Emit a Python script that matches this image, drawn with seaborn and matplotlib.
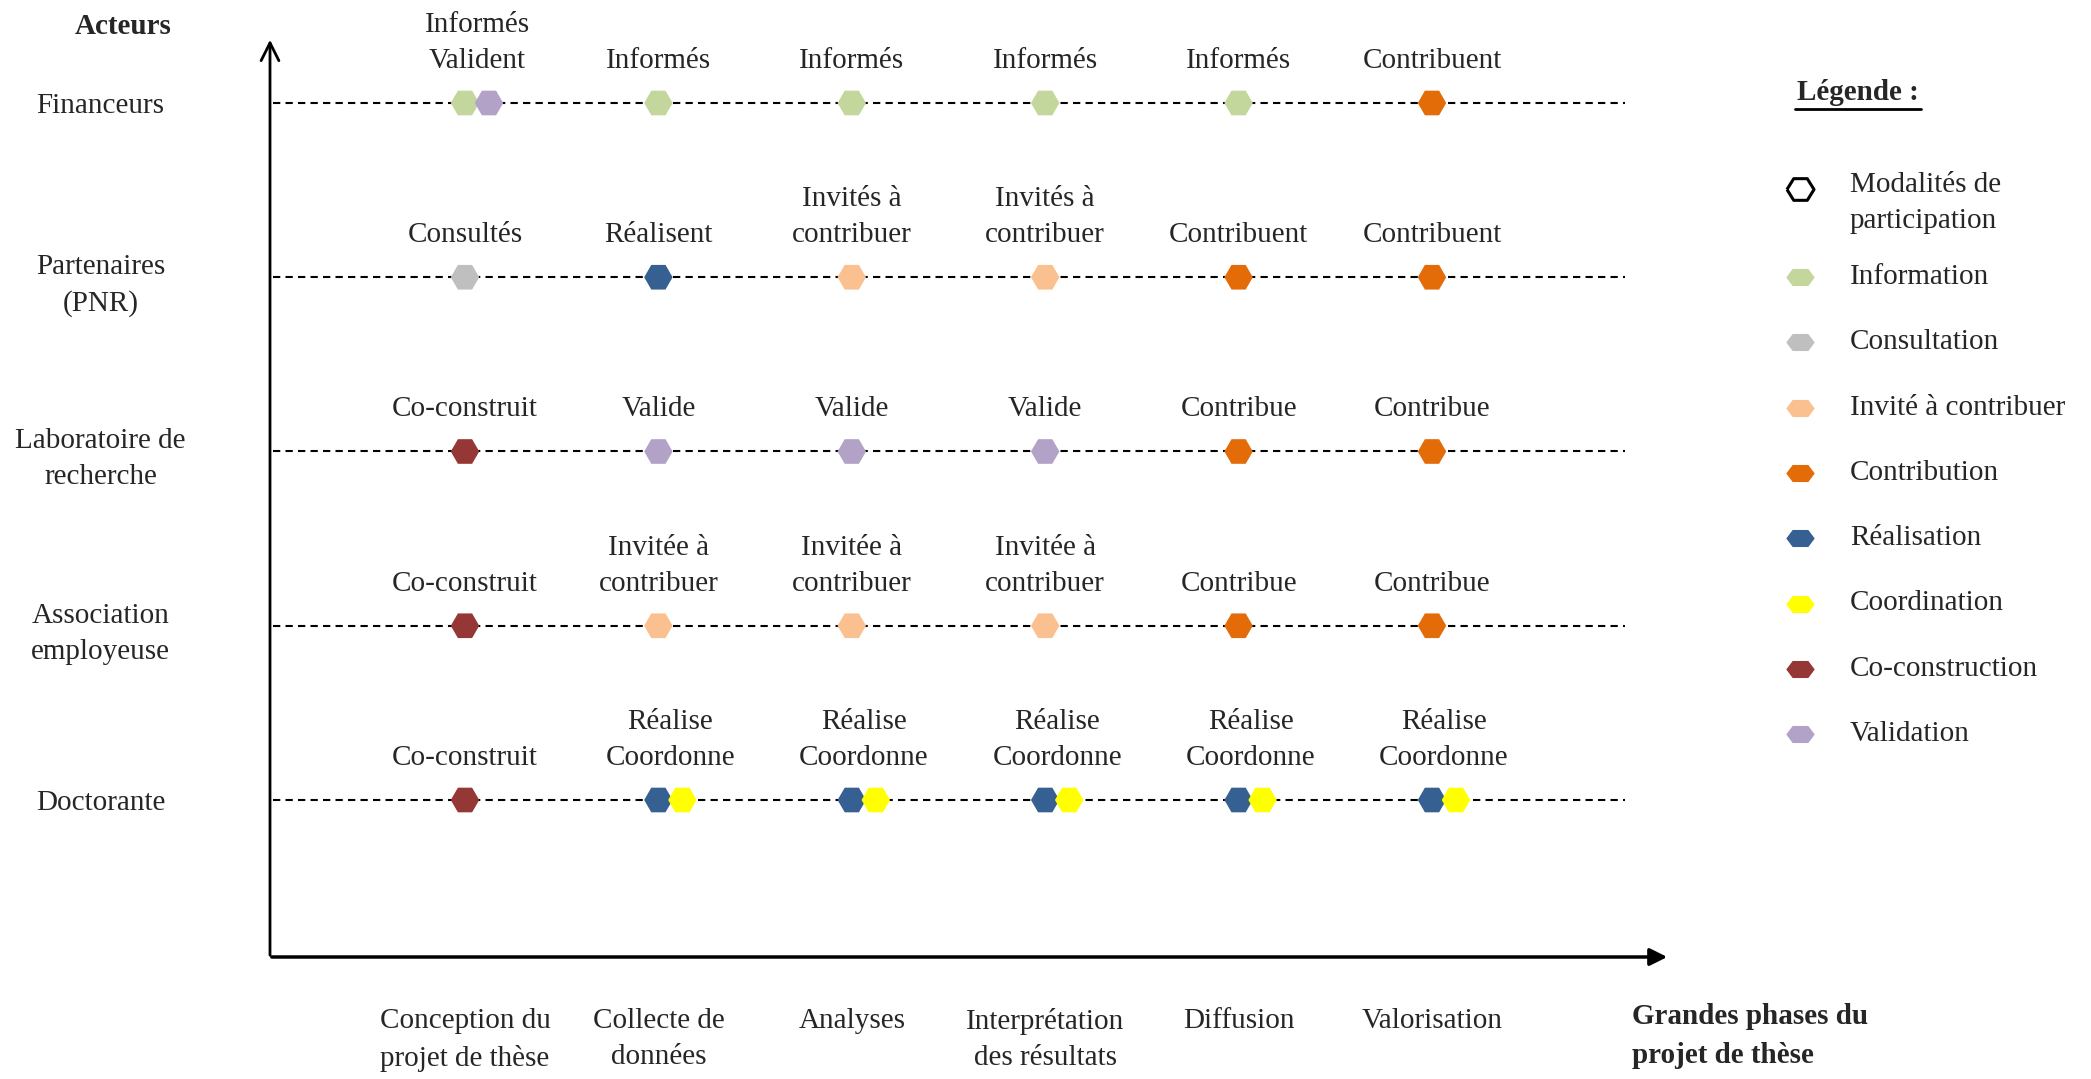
import pandas as pd
import matplotlib.pyplot as plt
import seaborn as sns

sns.set_theme(style="white")
plt.rcParams["font.family"] = ["Liberation Serif", "DejaVu Serif"]
plt.rcParams["font.size"] = 21


# ---------------------------------------------------------
# Data
# ---------------------------------------------------------
actors = ["Financeurs", "Partenaires\n(PNR)", "Laboratoire de\nrecherche",
          "Association\nemployeuse", "Doctorante"]
phases = ["Conception du\nprojet de thèse", "Collecte de\ndonnées", "Analyses",
          "Interprétation\ndes résultats", "Diffusion", "Valorisation"]

modalities = ["Information", "Consultation", "Invité à contribuer", "Contribution",
              "Réalisation", "Coordination", "Co-construction", "Validation"]
modality_colors = ["#C3D69B", "#BFBFBF", "#FAC090", "#E36C09",
                   "#366092", "#FFFF00", "#953735", "#B3A2C7"]

# modalities used by each actor, phase by phase
financeurs_modes = [["Information", "Validation"], ["Information"], ["Information"],
                    ["Information"], ["Information"], ["Contribution"]]
partenaires_modes = [["Consultation"], ["Réalisation"], ["Invité à contribuer"],
                     ["Invité à contribuer"], ["Contribution"], ["Contribution"]]
labo_modes = [["Co-construction"], ["Validation"], ["Validation"],
              ["Validation"], ["Contribution"], ["Contribution"]]
association_modes = [["Co-construction"], ["Invité à contribuer"], ["Invité à contribuer"],
                     ["Invité à contribuer"], ["Contribution"], ["Contribution"]]
doctorante_modes = [["Co-construction"], ["Réalisation", "Coordination"],
                    ["Réalisation", "Coordination"], ["Réalisation", "Coordination"],
                    ["Réalisation", "Coordination"], ["Réalisation", "Coordination"]]

# captions written above the markers
financeurs_labels = ["Informés\nValident", "Informés", "Informés", "Informés",
                     "Informés", "Contribuent"]
partenaires_labels = ["Consultés", "Réalisent", "Invités à\ncontribuer",
                      "Invités à\ncontribuer", "Contribuent", "Contribuent"]
labo_labels = ["Co-construit", "Valide", "Valide", "Valide", "Contribue", "Contribue"]
association_labels = ["Co-construit", "Invitée à\ncontribuer", "Invitée à\ncontribuer",
                      "Invitée à\ncontribuer", "Contribue", "Contribue"]
doctorante_labels = ["Co-construit", "Réalise\nCoordonne", "Réalise\nCoordonne",
                     "Réalise\nCoordonne", "Réalise\nCoordonne", "Réalise\nCoordonne"]

all_modes = [financeurs_modes, partenaires_modes, labo_modes,
             association_modes, doctorante_modes]
all_labels = [financeurs_labels, partenaires_labels, labo_labels,
              association_labels, doctorante_labels]

legend_labels = ["Modalités de\nparticipation"] + modalities


# ---------------------------------------------------------
# Layout (pixels of the 2091x1079 canvas)
# ---------------------------------------------------------
W, H = 2091, 1079
COL0, COL_STEP = 465, 193.4        # centre of first phase column, spacing
ROW0, ROW_STEP = 103, 174.25       # centre of first actor row, spacing
AX_LEFT, AX_RIGHT, AX_TOP, AX_BOTTOM = 270, 1670, 37, 957
PAIR_DX = 24 / COL_STEP            # second marker of a pair sits 24 px right
LS = 1.5                           # line spacing of two-line texts


def to_x(px):
    return (px - COL0) / COL_STEP


def to_y(py):
    return (py - ROW0) / ROW_STEP


records = []
for j, modes_row in enumerate(all_modes):
    for i, modes in enumerate(modes_row):
        for k, m in enumerate(modes):
            records.append({"actor": j, "phase": i, "slot": k, "modality": m})
df = pd.DataFrame(records)
df["x"] = df["phase"] + df["slot"] * PAIR_DX

fig = plt.figure(figsize=(W / 100, H / 100), dpi=100)
ax = fig.add_axes([AX_LEFT / W, 1 - AX_BOTTOM / H,
                   (AX_RIGHT - AX_LEFT) / W, (AX_BOTTOM - AX_TOP) / H])
ax.set_xlim(to_x(AX_LEFT), to_x(AX_RIGHT))
ax.set_ylim(to_y(AX_BOTTOM), to_y(AX_TOP))

# dashed guide line for every actor
ax.hlines(range(len(actors)), to_x(273), to_x(1625), colors="black",
          linestyles=(0, (3.5, 2.5)), linewidth=1.5, zorder=1)

sns.scatterplot(data=df, x="x", y="actor", hue="modality", hue_order=modalities,
                palette=modality_colors, marker="H", s=420, linewidth=0,
                legend=False, ax=ax, zorder=3)

# captions above the markers
for j, (modes_row, labels_row) in enumerate(zip(all_modes, all_labels)):
    for i, (modes, label) in enumerate(zip(modes_row, labels_row)):
        xc = i + (len(modes) - 1) * PAIR_DX / 2
        ax.annotate(label, (xc, j), xytext=(0, 21), textcoords="offset points",
                    ha="center", va="bottom", linespacing=LS)

ax.set_xticks(range(len(phases)))
ax.set_xticklabels(phases, linespacing=LS)
ax.set_yticks(range(len(actors)))
ax.set_yticklabels(actors, ha="center", linespacing=LS)
ax.tick_params(axis="x", length=0, pad=37, labelsize=21)
ax.tick_params(axis="y", length=0, pad=122, labelsize=21)
ax.set_xlabel("")
ax.set_ylabel("")
for s in ax.spines.values():
    s.set_visible(False)
ax.set_facecolor("none")

# ---------------------------------------------------------
# Overlay in pixel coordinates: arrows, titles, legend
# ---------------------------------------------------------
lax = fig.add_axes([0, 0, 1, 1], zorder=-1)
lax.set_xlim(0, W)
lax.set_ylim(H, 0)
lax.axis("off")

lax.annotate("", xy=(AX_LEFT, AX_TOP), xytext=(AX_LEFT, AX_BOTTOM + 1),
             arrowprops=dict(arrowstyle="->", lw=2, color="black", mutation_scale=32))
lax.annotate("", xy=(AX_RIGHT, AX_BOTTOM), xytext=(AX_LEFT - 1, AX_BOTTOM),
             arrowprops=dict(arrowstyle="-|>", lw=2.5, color="black", mutation_scale=26))

lax.text(123, 26, "Acteurs", fontweight="bold", ha="center", va="center")
lax.text(1632, 1003, "Grandes phases du\nprojet de thèse", fontweight="bold",
         ha="left", va="top", linespacing=1.55)

title = lax.text(1858, 93, "Légende :", fontweight="bold", ha="center", va="center")

flat_hex = [(-1, 0), (-0.55, 0.6), (0.55, 0.6), (1, 0), (0.55, -0.6), (-0.55, -0.6), (-1, 0)]
open_hex = [(-1, 0), (-0.5, 0.8), (0.5, 0.8), (1, 0), (0.5, -0.8), (-0.5, -0.8), (-1, 0)]
leg_colors = ["white"] + modality_colors
for k, (lab, col) in enumerate(zip(legend_labels, leg_colors)):
    y = 189 if k == 0 else 277 + 65.3 * (k - 1)
    if k == 0:
        lax.scatter([1800], [y], marker=open_hex, s=380, facecolor="white",
                    edgecolor="black", linewidth=2.2)
        lax.text(1850, y - 17, lab, ha="left", va="top", linespacing=LS)
    else:
        lax.scatter([1800], [y], marker=flat_hex, s=420, color=col, linewidth=0)
        lax.text(1850, y, lab, ha="left", va="center")

# underline the legend title
fig.canvas.draw()
bb = title.get_window_extent().transformed(lax.transData.inverted())
lax.plot([bb.x0 - 2, bb.x1 + 2], [bb.y0 + 2, bb.y0 + 2], color="black", lw=2)

fig.savefig("out.png", dpi=100)
